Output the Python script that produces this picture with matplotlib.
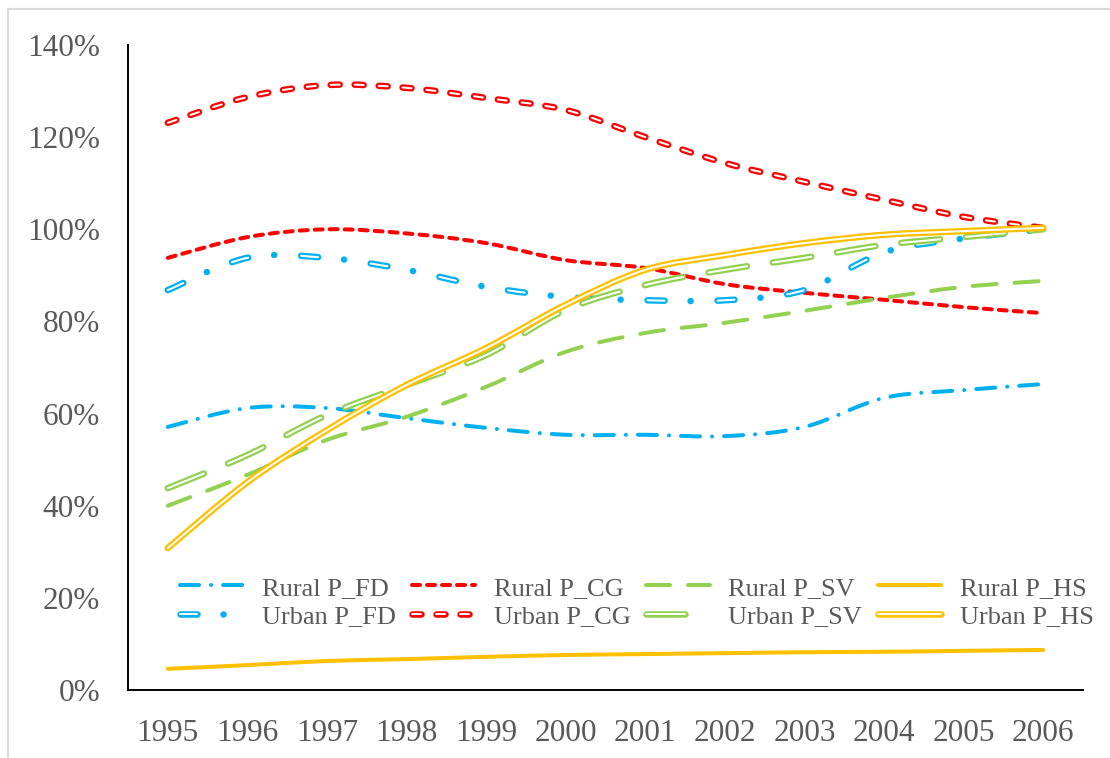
import numpy as np
import matplotlib
matplotlib.use("Agg")
import matplotlib.pyplot as plt
import matplotlib.patheffects as pe
from matplotlib.path import Path
from matplotlib.patches import PathPatch, Rectangle
from matplotlib.lines import Line2D
from matplotlib.legend_handler import HandlerTuple

plt.rcParams['font.family'] = ['Liberation Serif', 'DejaVu Serif']
plt.rcParams['lines.scale_dashes'] = False

# Data (share of 2006 level)
years = ["1995", "1996", "1997", "1998", "1999", "2000",
         "2001", "2002", "2003", "2004", "2005", "2006"]

rural_fd = [57.1, 61.2, 61.2, 59.0, 56.9, 55.4, 55.4, 55.1, 57.1, 63.4, 65.1, 66.4]
rural_cg = [93.8, 98.3, 100.0, 99.1, 97.0, 93.3, 91.6, 88.1, 86.2, 84.7, 83.1, 81.8]
rural_sv = [40.0, 46.7, 54.3, 59.3, 65.8, 73.4, 77.5, 79.7, 82.3, 85.1, 87.5, 88.8]
rural_hs = [4.6, 5.4, 6.3, 6.7, 7.2, 7.6, 7.8, 8.0, 8.2, 8.3, 8.5, 8.7]

urban_fd = [86.8, 93.8, 93.8, 91.2, 87.5, 85.3, 84.6, 84.6, 86.8, 95.0, 98.0, 100.0]
urban_cg = [123.1, 128.7, 131.3, 130.7, 128.5, 125.9, 120.0, 114.4, 110.3, 106.4, 102.7, 100.3]
urban_sv = [43.8, 51.0, 59.7, 66.2, 72.7, 82.5, 87.9, 91.2, 93.8, 96.6, 98.3, 100.0]
urban_hs = [30.8, 45.1, 56.4, 66.2, 74.2, 83.6, 91.2, 94.4, 97.0, 98.8, 99.6, 100.3]

BLUE, RED, GREEN, ORANGE = "#00B0F0", "#FF0000", "#92D050", "#FFC000"
PT = 72 / 100  # pixels -> points


def smooth_path(ys):
    # Excel-like smoothed line: cubic bezier segments through the points
    pts = np.column_stack([np.arange(len(ys)), np.asarray(ys) / 100.0])
    n = len(pts)
    verts, codes = [pts[0]], [Path.MOVETO]
    for i in range(n - 1):
        p0, p1 = pts[max(i - 1, 0)], pts[i]
        p2, p3 = pts[i + 1], pts[min(i + 2, n - 1)]
        verts += [p1 + (p2 - p0) / 6, p2 - (p3 - p1) / 6, p2]
        codes += [Path.CURVE4] * 3
    return Path(verts, codes)


def dash(*px, offset=0):
    return (offset * PT, tuple(v * PT for v in px))


OUTER, INNER, SINGLE = 6.5, 2.0, 4.0

# label, values, color, dashes, double, extra dots (on, off, offset) in px
series = [
    ("Rural P_FD", rural_fd, BLUE, dash(19, 12, 0.1, 12), False, None),
    ("Rural P_CG", rural_cg, RED, dash(8, 7), False, None),
    ("Rural P_SV", rural_sv, GREEN, dash(24, 18), False, None),
    ("Rural P_HS", rural_hs, ORANGE, "solid", False, None),
    ("Urban P_FD", urban_fd, BLUE, dash(17, 53), True, dash(0.1, 69.9, offset=70 - 43)),
    ("Urban P_CG", urban_cg, RED, dash(9, 15), True, None),
    ("Urban P_SV", urban_sv, GREEN, dash(39, 26), True, None),
    ("Urban P_HS", urban_hs, ORANGE, "solid", True, None),
]

fig = plt.figure(figsize=(11.1, 7.58), dpi=100)
ax = fig.add_axes([128 / 1110, 68 / 758, 955 / 1110, 645 / 758])

handles = {}
for label, vals, color, ls, double, dots in series:
    path = smooth_path(vals)
    if double:
        color_in, lw = "white", INNER * PT
        effects = [pe.Stroke(linewidth=OUTER * PT, foreground=color), pe.Normal()]
    else:
        color_in, lw, effects = color, SINGLE * PT, None
    ax.add_patch(PathPatch(path, fill=False, edgecolor=color_in, linewidth=lw,
                           linestyle=ls, capstyle="round", joinstyle="round",
                           path_effects=effects))
    h = Line2D([], [], color=color_in, lw=lw, linestyle=ls, dash_capstyle="round",
               solid_capstyle="round", path_effects=effects)
    if dots is not None:
        # solid round dots between the hollow dashes
        ax.add_patch(PathPatch(path, fill=False, edgecolor=color, linewidth=OUTER * PT,
                               linestyle=dots, capstyle="round"))
        h = (h, Line2D([], [], color=color, lw=OUTER * PT, linestyle=dots,
                       dash_capstyle="round"))
    handles[label] = h

ax.set_xlim(-0.5, len(years) - 0.5)
ax.set_ylim(0, 1.4)
ax.set_xticks(range(len(years)))
ax.set_xticklabels(years)
yt = np.arange(0, 1.41, 0.2)
ax.set_yticks(yt)
ax.set_yticklabels([f"{int(round(v * 100))}%" for v in yt])
ax.tick_params(axis="both", length=0, labelsize=22.5, labelcolor="#595959")
ax.tick_params(axis="y", pad=20)
ax.tick_params(axis="x", pad=21)
for s in ["top", "right"]:
    ax.spines[s].set_visible(False)
for s in ["left", "bottom"]:
    ax.spines[s].set_linewidth(1.4)
    ax.spines[s].set_color("black")

# legend: Excel fills rows first, matplotlib fills columns
order = ["Rural P_FD", "Urban P_FD", "Rural P_CG", "Urban P_CG",
         "Rural P_SV", "Urban P_SV", "Rural P_HS", "Urban P_HS"]
leg = fig.legend([handles[k] for k in order], order, ncol=4, frameon=False,
                 loc="center", bbox_to_anchor=(637 / 1110, 1 - 602 / 758),
                 fontsize=19, handlelength=2.4, handletextpad=0.7,
                 columnspacing=0.6, labelspacing=0.18, borderpad=0,
                 handler_map={tuple: HandlerTuple(ndivide=1, pad=0)})
for t in leg.get_texts():
    t.set_color("#595959")

# light chart-area border
fig.patches.append(Rectangle((8 / 1110, -0.05), 1.1, 1 - 9 / 758 + 0.05,
                             transform=fig.transFigure, fill=False,
                             edgecolor="#D9D9D9", lw=1.5))

fig.savefig("out.png", dpi=100)
